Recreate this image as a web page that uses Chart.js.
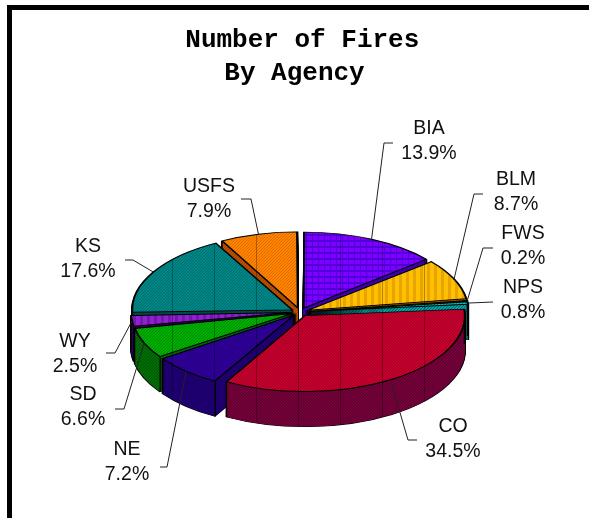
<!DOCTYPE html>
<html>
<head>
<meta charset="utf-8">
<title>Number of Fires By Agency</title>
<script src="https://cdn.jsdelivr.net/npm/chart.js@4"></script>
<style>
  html, body { margin: 0; padding: 0; background: #fff; overflow: hidden; }
  #wrap { position: relative; width: 589px; height: 518px; }
  #frameTop { position: absolute; left: 7px; top: 5px; right: 0; height: 5px; background: #000; }
  #frameLeft { position: absolute; left: 7px; top: 5px; bottom: 0; width: 5px; background: #000; }
</style>
</head>
<body>
<div id="wrap">
  <canvas id="fireChart" width="589" height="518"></canvas>
  <div id="frameTop"></div>
  <div id="frameLeft"></div>
</div>
<script>
const agencies = ['BIA', 'BLM', 'FWS', 'NPS', 'CO', 'NE', 'SD', 'WY', 'KS', 'USFS'];
const firePercents = [13.9, 8.7, 0.2, 0.8, 34.5, 7.2, 6.6, 2.5, 17.6, 7.9];
const percentLabels = ['13.9%', '8.7%', '0.2%', '0.8%', '34.5%', '7.2%', '6.6%', '2.5%', '17.6%', '7.9%'];

// top colours, wall colours: [main, hatch]
const sliceStyles = [
  { kind: 'grid',  top: ['#8000ff', '#5000d8'], wall: ['#4000b8', '#300090'] },
  { kind: 'vert',  top: ['#ffc000', '#e8a400'], wall: ['#a06000', '#804800'] },
  { kind: 'diag',  top: ['#e08000', '#b06000'], wall: ['#905000', '#703800'] },
  { kind: 'diag',  top: ['#00c8c8', '#008888'], wall: ['#00a8a8', '#006868'] },
  { kind: 'diag',  top: ['#c8002c', '#a00028'], wall: ['#780038', '#580030'] },
  { kind: 'diag',  top: ['#30009c', '#240078'], wall: ['#200078', '#180058'] },
  { kind: 'diag',  top: ['#00b000', '#008c00'], wall: ['#007000', '#005010'] },
  { kind: 'vert',  top: ['#9020d0', '#7018a8'], wall: ['#300060', '#200048'] },
  { kind: 'diag',  top: ['#008888', '#006c6c'], wall: ['#005050', '#003c3c'] },
  { kind: 'diag',  top: ['#ff8400', '#e06c00'], wall: ['#b85000', '#a04000'] }
];

// label centres and leader elbows, in page pixels
const labelSpots = [
  { x: 429, y: 129, elbow: [[384, 143], [393, 143]] },
  { x: 516, y: 180, elbow: [[474, 194], [483, 194]] },
  { x: 523, y: 234, elbow: [[483, 248], [493, 248]] },
  { x: 523, y: 288, elbow: [[493, 302]] },
  { x: 453, y: 427, elbow: [[408, 440], [417, 440]] },
  { x: 127, y: 450, elbow: [[167, 467], [160, 467]] },
  { x: 83,  y: 395, elbow: [[124, 409], [115, 409]] },
  { x: 75,  y: 342, elbow: [[115, 353], [106, 353]] },
  { x: 88,  y: 247, elbow: [[133, 260], [125, 260]] },
  { x: 209, y: 187, elbow: [[251, 199], [241, 199]] }
];

const pieX = 300;
const pieY = 312;
const pieRadius = 160;
const squash = 0.475;
const depth = 35;
const explode = 9;
const gridStep = 42;

function makeTile(ctx, kind, colors) {
  const tile = document.createElement('canvas');
  tile.width = gridStep;
  tile.height = 6;
  const t = tile.getContext('2d');
  t.fillStyle = colors[0];
  t.fillRect(0, 0, gridStep, 6);
  t.fillStyle = colors[1];
  for (let y = 0; y < 6; y++) {
    for (let x = 0; x < gridStep; x++) {
      let on = false;
      if (kind === 'diag') on = (x + y) % 3 === 0;
      if (kind === 'vert') on = x % 7 < 3;
      if (kind === 'grid') on = y % 6 < 2 || x % 6 === 0;
      if (on) t.fillRect(x, y, 1, 1);
    }
  }
  // the faint vertical rules that run over the whole pie
  t.fillStyle = 'rgba(0,0,0,0.3)';
  t.fillRect(4, 0, 1, 6);
  return ctx.createPattern(tile, 'repeat');
}

function arcShift(arc) {
  const mid = (arc.startAngle + arc.endAngle) / 2;
  return { x: Math.cos(mid) * explode, y: Math.sin(mid) * explode };
}

function toPage(arc, angle, drop) {
  const s = arcShift(arc);
  return {
    x: pieX + s.x + Math.cos(angle) * pieRadius,
    y: pieY + drop + (s.y + Math.sin(angle) * pieRadius) * squash
  };
}

function paintArc(ctx, arc, pattern, border, drop) {
  ctx.save();
  ctx.translate(pieX, pieY + drop);
  ctx.scale(1, squash);
  ctx.translate(-arc.x, -arc.y);
  const s = arcShift(arc);
  const m = ctx.getTransform();
  m.translateSelf(s.x, s.y);
  pattern.setTransform(m.inverse());
  const copy = Object.create(arc);
  // Chart.js grows exploded arcs a little, take that back off
  const grow = explode * (1 - Math.sin(Math.min(Math.PI, arc.circumference)));
  copy.outerRadius = arc.outerRadius - grow;
  copy.options = Object.assign({}, arc.options, {
    backgroundColor: pattern,
    borderColor: '#000',
    borderWidth: border,
    borderJoinStyle: 'miter'
  });
  arc.draw.call(copy, ctx);
  ctx.restore();
}

const fakePie3d = {
  id: 'fakePie3d',
  beforeDatasetsDraw(chart) {
    const ctx = chart.ctx;
    const arcs = chart.getDatasetMeta(0).data;
    if (!this.tiles) {
      this.tiles = sliceStyles.map(st => ({
        top: makeTile(ctx, st.kind, st.top),
        wall: makeTile(ctx, 'diag', st.wall)
      }));
    }
    // back slices first so the front ones sit over their walls
    const order = arcs.map((a, i) => i).sort((a, b) => {
      const ma = (arcs[a].startAngle + arcs[a].endAngle) / 2;
      const mb = (arcs[b].startAngle + arcs[b].endAngle) / 2;
      return Math.sin(ma) - Math.sin(mb);
    });
    order.forEach(i => {
      const arc = arcs[i];
      const tile = this.tiles[i];
      for (let d = depth; d > 0; d -= 1) paintArc(ctx, arc, tile.wall, 2, d);
      for (let d = depth; d > 0; d -= 1) paintArc(ctx, arc, tile.wall, 0, d);
      // corner edges of the wall
      ctx.strokeStyle = '#000';
      ctx.lineWidth = 1.2;
      [arc.startAngle, arc.endAngle].forEach(a => {
        const p = toPage(arc, a, 0);
        ctx.beginPath();
        ctx.moveTo(p.x, p.y);
        ctx.lineTo(p.x, p.y + depth);
        ctx.stroke();
      });
      paintArc(ctx, arc, tile.top, 2, 0);
    });
    return false;
  },
  afterDraw(chart) {
    const ctx = chart.ctx;
    const arcs = chart.getDatasetMeta(0).data;
    ctx.save();
    ctx.strokeStyle = '#222';
    ctx.lineWidth = 1;
    ctx.font = '19.5px "Liberation Sans", Arial, sans-serif';
    ctx.textAlign = 'center';
    ctx.textBaseline = 'middle';
    ctx.fillStyle = '#111';
    arcs.forEach((arc, i) => {
      const spot = labelSpots[i];
      const start = toPage(arc, (arc.startAngle + arc.endAngle) / 2, i === 4 ? 4 : 0);
      ctx.beginPath();
      ctx.moveTo(start.x, start.y);
      spot.elbow.forEach(p => ctx.lineTo(p[0], p[1]));
      ctx.stroke();
      ctx.fillText(agencies[i], spot.x, spot.y);
      ctx.fillText(percentLabels[i], spot.x, spot.y + 25);
    });
    ctx.restore();
  }
};

new Chart(document.getElementById('fireChart').getContext('2d'), {
  type: 'pie',
  data: {
    labels: agencies,
    datasets: [{
      label: 'Number of Fires',
      data: firePercents,
      backgroundColor: sliceStyles.map(st => st.top[0]),
      offset: explode * 4
    }]
  },
  options: {
    responsive: false,
    devicePixelRatio: 1,
    animation: false,
    events: [],
    radius: pieRadius,
    plugins: {
      legend: { display: false },
      tooltip: { enabled: false },
      title: {
        display: true,
        text: ['\u00a0Number of Fires', 'By Agency'],
        color: '#000',
        font: { family: '"Liberation Mono", "Courier New", monospace', size: 26, weight: 'bold', lineHeight: 1.27 },
        padding: { top: 24, bottom: 10 }
      }
    }
  },
  plugins: [fakePie3d]
});
</script>
</body>
</html>
